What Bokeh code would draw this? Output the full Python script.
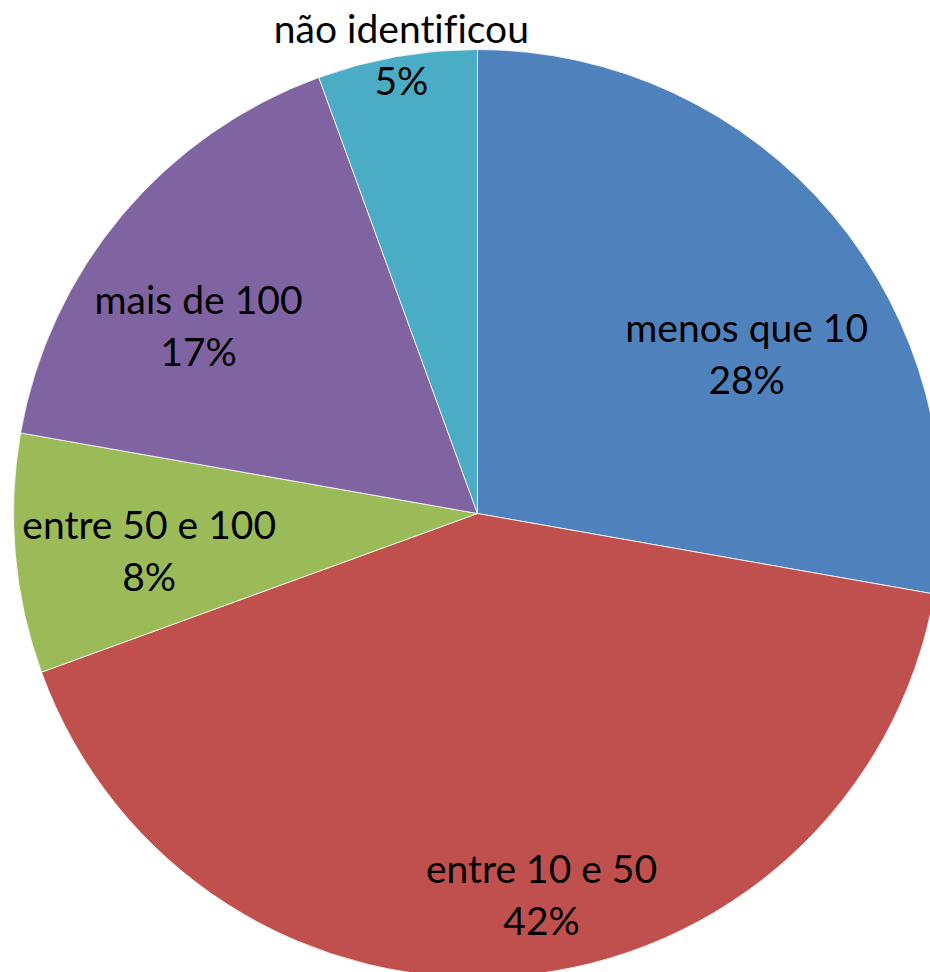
import math
from bokeh.plotting import figure
from bokeh.models import Range1d, ColumnDataSource, InlineStyleSheet
from bokeh.core.properties import value
from bokeh.embed import file_html
from bokeh.resources import INLINE

# ---- data ----
categories = ["menos que 10", "entre 10 e 50", "entre 50 e 100", "mais de 100", "não identificou"]
counts = [10, 15, 3, 6, 2]
colors = ["#4F81BD", "#C0504D", "#9BBB59", "#8064A2", "#4BACC6"]

# ---- layout (pixel space of the page, y measured upward) ----
W, H = 930, 972
CX, CY = 477, 459          # pie centre in plot coordinates
R = 464
LABEL_R = [0.66, 0.863, 0.716, 0.709, 0.974]   # label distance as fraction of R
LABEL_DA = [-11.5, 4.2, 3.8, 8.0, -0.3]        # label angle offset (deg)
LINE_GAP = 52
TEXT_DY = 14.5
FONT = "Lato"
FONT_SIZE = "39px"

total = sum(counts)
# percentages as Excel shows them (largest remainder, summing to 100)
raw = [c / total * 100 for c in counts]
floors = [int(math.floor(r)) for r in raw]
left = 100 - sum(floors)
order = sorted(range(len(raw)), key=lambda i: raw[i] - floors[i], reverse=True)
pcts = floors[:]
for i in order[:left]:
    pcts[i] += 1
pct_labels = [f"{p}%" for p in pcts]

starts, ends, mids = [], [], []
cum = 0
for c in counts:
    a0 = math.pi / 2 - cum / total * 2 * math.pi
    cum += c
    a1 = math.pi / 2 - cum / total * 2 * math.pi
    starts.append(a0)
    ends.append(a1)
    mids.append((a0 + a1) / 2)

src = ColumnDataSource(dict(x=[CX] * len(counts), y=[CY] * len(counts),
                            start=starts, end=ends, color=colors))

p = figure(width=W, height=H, x_range=Range1d(0, W), y_range=Range1d(0, H),
           output_backend="svg", toolbar_location=None, min_border=0)
p.axis.visible = False
p.grid.visible = False
p.outline_line_color = None
p.background_fill_color = "white"
p.stylesheets = [InlineStyleSheet(css=":host { font-variant-ligatures: none; font-feature-settings: 'liga' 0; }")]

p.wedge(x="x", y="y", radius=R, start_angle="start", end_angle="end",
        direction="clock", fill_color="color", line_color="white",
        line_width=0.8, source=src)

lx, ly1, ly2 = [], [], []
for i, m in enumerate(mids):
    a = m + math.radians(LABEL_DA[i])
    r = LABEL_R[i] * R
    x = CX + r * math.cos(a)
    y = CY + r * math.sin(a) + TEXT_DY
    lx.append(x)
    ly1.append(y + LINE_GAP / 2)
    ly2.append(y - LINE_GAP / 2)

p.text(x=lx, y=ly1, text=categories, text_align="center", text_baseline="alphabetic",
       text_font=value(FONT), text_font_size=FONT_SIZE, text_color="black")
p.text(x=lx, y=ly2, text=pct_labels, text_align="center", text_baseline="alphabetic",
       text_font=value(FONT), text_font_size=FONT_SIZE, text_color="black")

open("out.html", "w").write(file_html(p, INLINE))
